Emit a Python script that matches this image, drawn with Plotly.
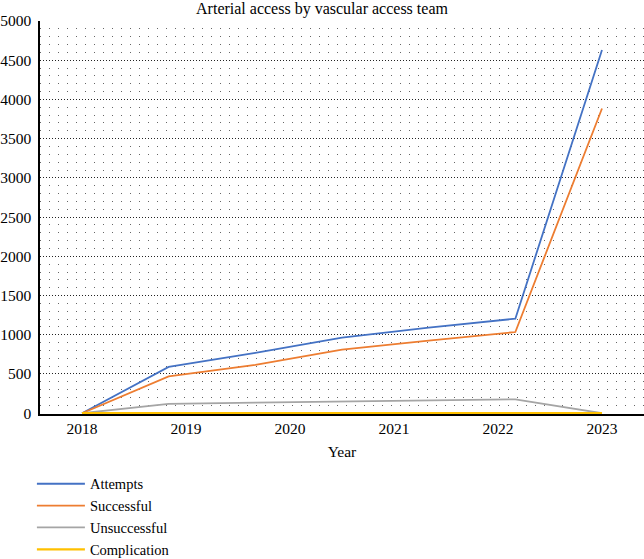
import plotly.graph_objects as go

years = [2018, 2018.833, 2019.667, 2020.5, 2021.333, 2022.167, 2023]
attempts = [0, 590, 770, 965, 1090, 1205, 4630]
successful = [0, 470, 615, 810, 925, 1035, 3885]
unsuccessful = [0, 120, 135, 150, 163, 177, 0]
complication = [0, 0, 0, 0, 0, 0, 0]

tick_years = [2018, 2019, 2020, 2021, 2022, 2023]
tick_labels = ["2018", "2019", "2020", "2021", "2022", "2023"]

series = [
    ("Attempts", attempts, "#4472C4", 1.8),
    ("Successful", successful, "#ED7D31", 1.8),
    ("Unsuccessful", unsuccessful, "#A5A5A5", 1.8),
    ("Complication", complication, "#FFC000", 2.2),
]

FONT = "'Liberation Serif', 'DejaVu Serif', serif"

fig = go.Figure()
for name, vals, color, w in series:
    fig.add_trace(go.Scatter(x=years, y=vals, mode="lines", name=name,
                             line=dict(color=color, width=w)))

fig.update_layout(
    width=644, height=559,
    paper_bgcolor="white", plot_bgcolor="white",
    margin=dict(l=40, r=0, t=21, b=145, autoexpand=False),
    font=dict(family=FONT, size=15.5, color="black"),
    title=dict(text="Arterial access by vascular access team", x=0.5, xanchor="center",
               xref="container", yref="container", y=1 - 8 / 559, yanchor="middle",
               automargin=False, font=dict(family=FONT, size=16, color="black")),
    showlegend=True,
    legend=dict(orientation="v", x=-0.0134, xanchor="left", y=-0.137, yanchor="top",
                font=dict(family=FONT, size=14.5, color="black"), tracegroupgap=0,
                itemwidth=48, bgcolor="rgba(0,0,0,0)"),
)

fig.update_xaxes(
    range=[2017.596, 2023.404], tickvals=tick_years, ticktext=tick_labels,
    showgrid=False, zeroline=False, showline=True, linecolor="black", linewidth=1.5,
    ticks="", ticklabelstandoff=0, layer="below traces", automargin=False,
    title=dict(text="Year", font=dict(family=FONT, size=15.5), standoff=10),
)
fig.update_yaxes(
    range=[-10, 5000], tickvals=list(range(0, 5001, 500)), showgrid=True, gridcolor="#222222",
    griddash="1px,2px", gridwidth=1, zeroline=False, showline=True, linecolor="black",
    linewidth=1.5, ticks="", ticklabelstandoff=4, layer="below traces", automargin=False,
    minor=dict(tickvals=list(range(100, 5000, 100)), showgrid=True, gridcolor="#666666",
               griddash="1px,8px", gridwidth=1),
)

fig.write_html("out.html", config={"displayModeBar": False},
               post_script="document.body.style.margin='0';")
